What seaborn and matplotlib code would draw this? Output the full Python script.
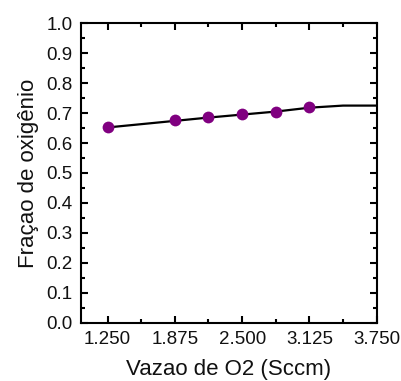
import matplotlib
matplotlib.use("Agg")
import matplotlib.pyplot as plt
import seaborn as sns
import pandas as pd
from matplotlib.ticker import MultipleLocator, FormatStrFormatter

# Data
vazao = [1.25, 1.875, 2.1875, 2.5, 2.8125, 3.125]
fracao = [0.655, 0.677, 0.687, 0.697, 0.705, 0.721]
fit_x = [1.25, 1.875, 2.1875, 2.5, 2.8125, 3.125, 3.4375, 3.75]
fit_y = [0.652, 0.674, 0.685, 0.695, 0.705, 0.718, 0.725, 0.725]
x_ticks = [1.25, 1.875, 2.5, 3.125, 3.75]

sns.set_style("ticks")
plt.rcParams['font.family'] = ['Liberation Sans', 'DejaVu Sans']
plt.rcParams['text.color'] = '#111111'
plt.rcParams['axes.labelcolor'] = '#111111'
plt.rcParams['xtick.labelcolor'] = '#111111'
plt.rcParams['ytick.labelcolor'] = '#111111'

fig = plt.figure(figsize=(4.02, 3.81), dpi=100)
ax = fig.add_axes([0.2007, 0.153, 0.7363, 0.786])

pts = pd.DataFrame({"x": vazao, "y": fracao})
fit = pd.DataFrame({"x": fit_x, "y": fit_y})

sns.lineplot(data=fit, x="x", y="y", ax=ax, color="black", linewidth=1.6, zorder=2)
sns.scatterplot(data=pts, x="x", y="y", ax=ax, color="#800080", s=72,
                edgecolor="#800080", linewidth=0, zorder=3)

ax.set_xlim(1.0, 3.75)
ax.set_ylim(0.0, 1.0)
ax.set_xticks(x_ticks)
ax.xaxis.set_major_formatter(FormatStrFormatter("%.3f"))
ax.xaxis.set_minor_locator(MultipleLocator(0.3125))
ax.yaxis.set_major_locator(MultipleLocator(0.1))
ax.yaxis.set_minor_locator(MultipleLocator(0.05))
ax.yaxis.set_major_formatter(FormatStrFormatter("%.1f"))

for s in ax.spines.values():
    s.set_visible(True)
    s.set_linewidth(1.5)
    s.set_color("black")

ax.tick_params(which="both", direction="in", top=True, right=True,
               color="black", width=1.5)
ax.tick_params(which="major", length=5, labelsize=13.5, pad=6)
ax.tick_params(which="minor", length=3)

ax.set_xlabel("Vazao de O2 (Sccm)", fontsize=16, labelpad=8)
ax.set_ylabel("Fraçao de oxigênio", fontsize=16, labelpad=5)

fig.savefig("out.png", dpi=100)
